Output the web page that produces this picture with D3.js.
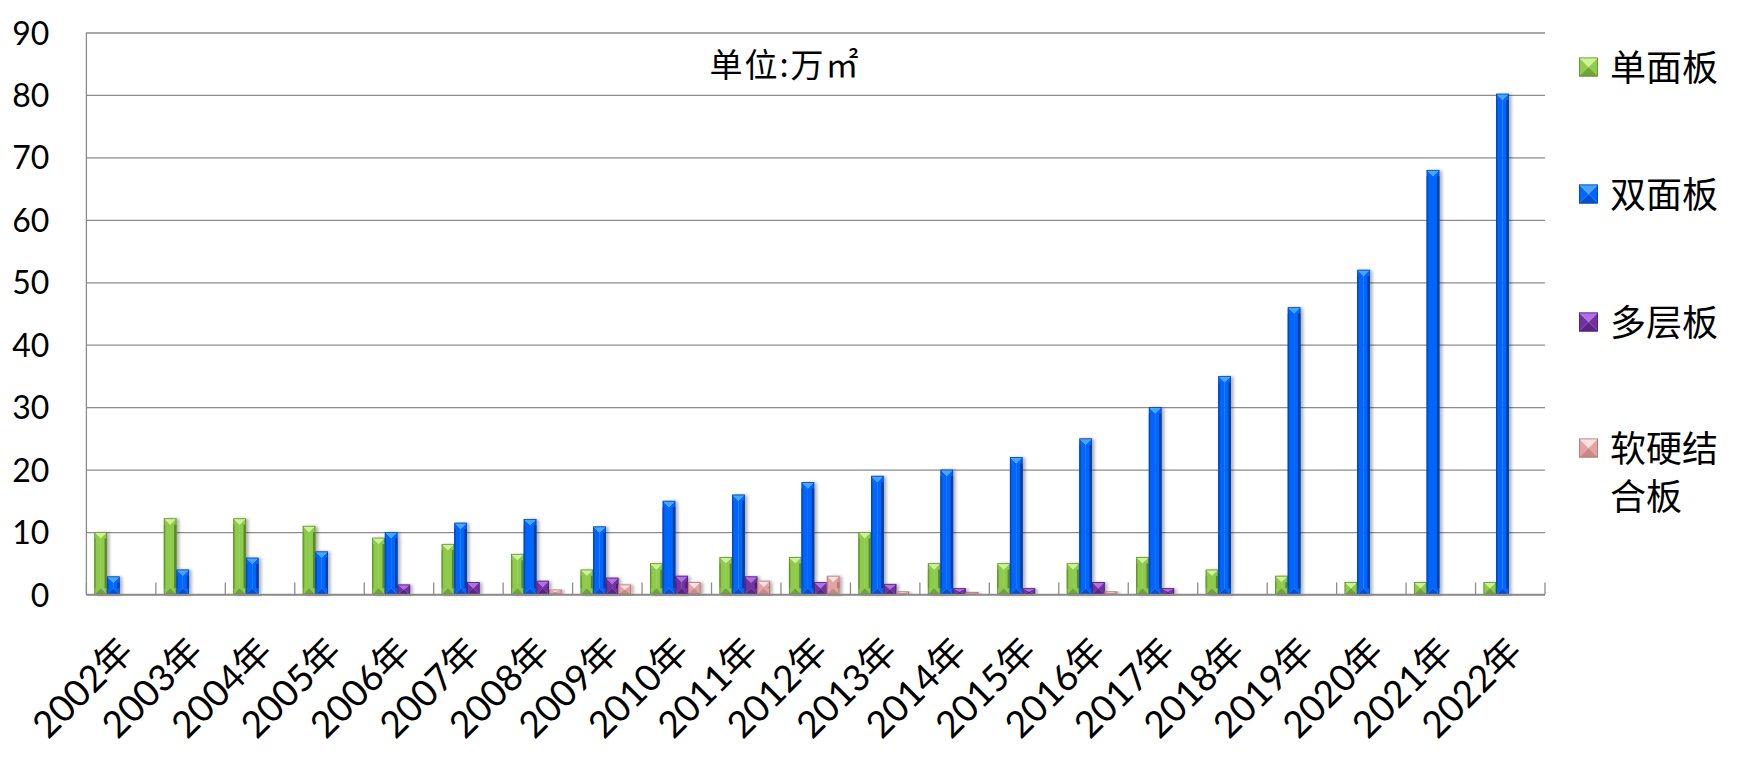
<!DOCTYPE html>
<html><head><meta charset="utf-8">
<script src="https://cdn.jsdelivr.net/npm/d3@7/dist/d3.min.js"></script>
<style>
html,body{margin:0;padding:0;background:#fff;}
svg{display:block;}
</style></head>
<body><svg id="c" width="1737" height="760"></svg>
<script>
// ---------- data ----------
const years = ["2002年","2003年","2004年","2005年","2006年","2007年","2008年","2009年","2010年","2011年","2012年","2013年","2014年","2015年","2016年","2017年","2018年","2019年","2020年","2021年","2022年"];
const seriesNames = ["单面板","双面板","多层板","软硬结合板"];
const singleSided = [10, 12.2, 12.2, 11, 9.1, 8.1, 6.5, 4, 5, 6, 6, 10, 5, 5, 5, 6, 4, 3, 2, 2, 2];
const doubleSided = [2.9, 4, 5.9, 6.9, 10, 11.5, 12.1, 10.9, 15, 16, 18, 19, 20, 22, 25, 30, 35, 46, 52, 68, 80.2];
const multiLayer  = [null, null, null, null, 1.6, 2, 2.2, 2.7, 3, 2.9, 2, 1.7, 1, 1, 2, 1, null, null, null, null, null];
const rigidFlex   = [null, null, null, null, null, null, 0.8, 1.6, 2, 2.2, 3, 0.5, 0.4, null, 0.5, null, null, null, null, null, null];
const yTicks = [0,10,20,30,40,50,60,70,80,90];
const unitLabel = "单位:万㎡";

const seriesValues = [singleSided, doubleSided, multiLayer, rigidFlex];
const palette = [
  {body:"#8fcb4c", top:"#cdf394", bot:"#6fa336", edgeL:"#74a93a", edgeR:"#5a8a27", stroke:"#5f8f2c"},
  {body:"#0066ff", top:"#46a4ff", bot:"#0050d0", edgeL:"#0052d6", edgeR:"#003c9e", stroke:"#0047b3"},
  {body:"#7231a3", top:"#b36ee6", bot:"#5a2384", edgeL:"#5e2689", edgeR:"#481b6a", stroke:"#4e1f74"},
  {body:"#e4a3a3", top:"#ffe0e0", bot:"#c98888", edgeL:"#d39292", edgeR:"#b57575", stroke:"#b07272"}
];

// ---------- layout ----------
const svg = d3.select("#c");
const plot = {left: 86.4, right: 1545, top: 32.5, bottom: 594.5};

const x0 = d3.scaleBand().domain(years).range([plot.left, plot.right]).paddingInner(0).paddingOuter(0);
const x1 = d3.scaleBand().domain(d3.range(seriesNames.length)).range([0, x0.bandwidth()]).paddingInner(0).paddingOuter(0.75);
const y = d3.scaleLinear().domain([0, 90]).range([plot.bottom, plot.top]);

const defs = svg.append("defs");
const f = defs.append("filter").attr("id","shadow").attr("x","-50%").attr("y","-10%").attr("width","200%").attr("height","120%");
f.append("feDropShadow").attr("dx",2.5).attr("dy",0.5).attr("stdDeviation",1.6).attr("flood-color","#000").attr("flood-opacity",0.3);

// gridlines + y labels
const yAxis = d3.axisLeft(y).tickValues(yTicks).tickSize(-(plot.right - plot.left)).tickPadding(37).tickFormat(d3.format("d"));
const gy = svg.append("g").attr("transform", `translate(${plot.left},0)`).call(yAxis);
gy.select(".domain").remove();
gy.selectAll(".tick line").attr("stroke", "#8c8c8c").attr("stroke-width", 1.3);
gy.selectAll(".tick text").attr("font-family","Lato, 'Open Sans', sans-serif").attr("font-size", 32).attr("fill","#000").attr("dy","0.36em");

// y axis line
svg.append("line").attr("x1", plot.left).attr("x2", plot.left).attr("y1", y(90)).attr("y2", y(0))
  .attr("stroke", "#8c8c8c").attr("stroke-width", 1.3);

// bevelled bar drawing
function bevel(g, x, yTop, w, h, c) {
  const x2 = x + w, y2 = yTop + h, xc = x + w / 2;
  const d = Math.min(w / 2, h / 2);
  const pts = a => a.map(p => p.join(",")).join(" ");
  g.append("polygon").attr("points", pts([[x,yTop],[xc,yTop+d],[xc,y2-d],[x,y2]])).attr("fill", c.body);
  g.append("polygon").attr("points", pts([[x2,yTop],[xc,yTop+d],[xc,y2-d],[x2,y2]])).attr("fill", c.body);
  g.append("polygon").attr("points", pts([[x,y2],[x2,y2],[xc,y2-d]])).attr("fill", c.bot);
  g.append("polygon").attr("points", pts([[x,yTop],[x2,yTop],[xc,yTop+d]])).attr("fill", c.top);
  if (h > 4) {
    g.append("rect").attr("x", x).attr("y", yTop + d).attr("width", 1.6).attr("height", Math.max(0, h - 2 * d)).attr("fill", c.edgeL);
    g.append("rect").attr("x", x2 - 2.4).attr("y", yTop + d).attr("width", 2.4).attr("height", Math.max(0, h - 2 * d)).attr("fill", c.edgeR);
  }
  g.append("rect").attr("x", x + 0.4).attr("y", yTop + 0.4).attr("width", Math.max(0, w - 0.8)).attr("height", Math.max(0, h - 0.8))
    .attr("fill", "none").attr("stroke", c.stroke).attr("stroke-width", 0.8);
}

// bars
const barsG = svg.append("g");
seriesValues.forEach((vals, si) => {
  vals.forEach((v, i) => {
    if (v == null) return;
    const g = barsG.append("g").attr("filter", "url(#shadow)");
    const bx = x0(years[i]) + x1(si) - 1.5;
    bevel(g, bx, y(v), x1.bandwidth(), y(0) - y(v), palette[si]);
  });
});

// x axis line & inside ticks at category boundaries
svg.append("line").attr("x1", plot.left).attr("x2", plot.right).attr("y1", y(0)).attr("y2", y(0))
  .attr("stroke", "#8c8c8c").attr("stroke-width", 1.5);
const boundaries = years.map(yr => x0(yr)).concat([x0(years[years.length-1]) + x0.bandwidth()]);
svg.append("g").selectAll("line").data(boundaries).join("line")
  .attr("x1", d => d).attr("x2", d => d).attr("y1", y(0)).attr("y2", y(0) - 12)
  .attr("stroke", "#8c8c8c").attr("stroke-width", 1.3);

// x labels
const xAxis = d3.axisBottom(x0).tickSize(0).tickPadding(0);
const gx = svg.append("g").attr("transform", `translate(0,${y(0)})`).call(xAxis);
gx.select(".domain").remove();
gx.selectAll(".tick text")
  .attr("font-family", "Lato, 'Noto Sans CJK SC', sans-serif").attr("font-size", 37).attr("fill", "#000")
  .attr("text-anchor", "end").attr("y", 0).attr("dy", 0)
  .attr("transform", "translate(14,59) rotate(-45)");

// unit label
svg.append("text").attr("x", 785).attr("y", 77).attr("text-anchor", "middle")
  .attr("font-family", "'Noto Sans CJK SC', sans-serif").attr("font-size", 33).attr("letter-spacing", 2)
  .attr("fill", "#000").text(unitLabel);

// legend
const legendY = [67, 194, 322, 448];
const legendG = svg.append("g");
seriesNames.forEach((name, i) => {
  const g = legendG.append("g");
  bevel(g, 1579, legendY[i] - 9.5, 19, 19, palette[i]);
  const t = g.append("text").attr("x", 1610).attr("y", legendY[i] + 14)
    .attr("font-family", "'Noto Sans CJK SC', sans-serif").attr("font-size", 36).attr("fill", "#000");
  // wrap into lines that fit the space to the right edge
  const maxW = 1737 - 1610 - 4;
  const chars = Array.from(name);
  let line = "", lines = [];
  const probe = t.append("tspan");
  chars.forEach(ch => {
    probe.text(line + ch);
    if (probe.node().getComputedTextLength() > maxW && line) { lines.push(line); line = ch; }
    else line += ch;
  });
  lines.push(line);
  probe.remove();
  lines.forEach((ln, k) => t.append("tspan").attr("x", 1610).attr("dy", k === 0 ? 0 : 48).text(ln));
});
</script>
</body></html>
